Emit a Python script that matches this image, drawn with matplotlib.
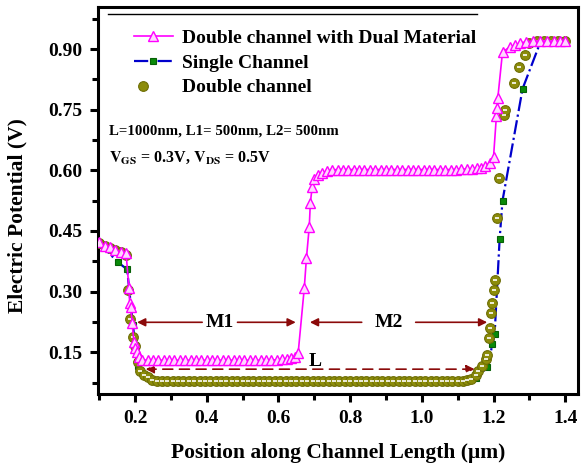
import matplotlib
matplotlib.use("Agg")
import matplotlib.pyplot as plt
from matplotlib.legend_handler import HandlerTuple
from matplotlib.ticker import MultipleLocator, FormatStrFormatter


plt.rcParams["font.family"] = "Liberation Serif"
plt.rcParams["font.weight"] = "bold"
plt.rcParams["mathtext.fontset"] = "stix"

# Double channel with dual material (magenta triangles)
dual_x = [0.100, 0.115, 0.130, 0.145, 0.160, 0.175, 0.183, 0.185, 0.188, 0.192,
          0.197, 0.200, 0.205, 0.211, 0.220, 0.235,
          0.250, 0.265, 0.280, 0.295, 0.310, 0.325, 0.340, 0.355, 0.370, 0.385,
          0.400, 0.415, 0.430, 0.445, 0.460, 0.475, 0.490, 0.505, 0.520, 0.535,
          0.550, 0.565, 0.580, 0.595, 0.610, 0.625, 0.635, 0.645, 0.655,
          0.672, 0.678, 0.686, 0.689, 0.694, 0.700, 0.710, 0.722, 0.735,
          0.750, 0.765, 0.780, 0.795, 0.810, 0.825, 0.840, 0.855, 0.870, 0.885,
          0.900, 0.915, 0.930, 0.945, 0.960, 0.975, 0.990, 1.005, 1.020, 1.035,
          1.050, 1.065, 1.080, 1.095, 1.110, 1.125, 1.140, 1.155, 1.165, 1.175,
          1.190, 1.200, 1.208, 1.211, 1.212, 1.225, 1.247, 1.261, 1.275, 1.290,
          1.309, 1.330, 1.350, 1.370, 1.385, 1.400]
dual_y = [0.422, 0.414, 0.410, 0.403, 0.398, 0.395, 0.308, 0.272, 0.262, 0.222,
          0.175, 0.160, 0.150, 0.138, 0.131, 0.130,
          0.130, 0.130, 0.130, 0.130, 0.130, 0.130, 0.130, 0.130, 0.130, 0.130,
          0.130, 0.130, 0.130, 0.130, 0.130, 0.130, 0.130, 0.130, 0.130, 0.130,
          0.130, 0.130, 0.131, 0.131, 0.132, 0.133, 0.135, 0.139, 0.148,
          0.308, 0.382, 0.461, 0.520, 0.558, 0.578, 0.588, 0.594, 0.598,
          0.601, 0.602, 0.602, 0.602, 0.602, 0.602, 0.602, 0.602, 0.602, 0.602,
          0.602, 0.602, 0.602, 0.602, 0.602, 0.602, 0.602, 0.602, 0.602, 0.602,
          0.602, 0.602, 0.602, 0.602, 0.603, 0.603, 0.604, 0.605, 0.607, 0.610,
          0.618, 0.634, 0.735, 0.755, 0.780, 0.893, 0.906, 0.910, 0.915, 0.918,
          0.920, 0.920, 0.920, 0.920, 0.920, 0.920]

# Single channel (green squares, blue dash-dot)
single_x = [0.100, 0.153, 0.178, 0.194, 0.208, 0.250, 0.350, 0.450, 0.550,
            0.650, 0.750, 0.850, 0.950, 1.050, 1.150, 1.183, 1.197, 1.203,
            1.217, 1.225, 1.281, 1.331, 1.400]
single_y = [0.420, 0.372, 0.355, 0.217, 0.115, 0.082, 0.080, 0.080, 0.080,
            0.080, 0.080, 0.080, 0.080, 0.080, 0.085, 0.113, 0.170, 0.194,
            0.431, 0.525, 0.802, 0.918, 0.920]

# Double channel (olive circles)
double_x = [0.100, 0.115, 0.130, 0.145, 0.160, 0.175, 0.180, 0.186, 0.194,
            0.200, 0.207, 0.214, 0.225, 0.236, 0.248, 0.261,
            0.275, 0.290, 0.305, 0.320, 0.335, 0.350, 0.365, 0.380, 0.395,
            0.410, 0.425, 0.440, 0.455, 0.470, 0.485, 0.500, 0.515, 0.530,
            0.545, 0.560, 0.575, 0.590, 0.605, 0.620, 0.635, 0.650, 0.665,
            0.680, 0.695, 0.710, 0.725, 0.740, 0.755, 0.770, 0.785, 0.800,
            0.815, 0.830, 0.845, 0.860, 0.875, 0.890, 0.905, 0.920, 0.935,
            0.950, 0.965, 0.980, 0.995, 1.010, 1.025, 1.040, 1.055, 1.070,
            1.085, 1.100, 1.115, 1.125, 1.136, 1.150, 1.158, 1.169, 1.180,
            1.183, 1.186, 1.189, 1.194, 1.197, 1.200, 1.203, 1.211, 1.214,
            1.228, 1.231, 1.256, 1.270, 1.287, 1.298, 1.320, 1.340, 1.360,
            1.380, 1.400]
double_y = [0.420, 0.413, 0.408, 0.402, 0.397, 0.390, 0.305, 0.231, 0.187,
            0.165, 0.125, 0.103, 0.093, 0.088, 0.082, 0.079,
            0.078, 0.078, 0.078, 0.078, 0.078, 0.078, 0.078, 0.078, 0.078,
            0.078, 0.078, 0.078, 0.078, 0.078, 0.078, 0.078, 0.078, 0.078,
            0.078, 0.078, 0.078, 0.078, 0.078, 0.078, 0.078, 0.078, 0.078,
            0.078, 0.078, 0.078, 0.078, 0.078, 0.078, 0.078, 0.078, 0.078,
            0.078, 0.078, 0.078, 0.078, 0.078, 0.078, 0.078, 0.078, 0.078,
            0.078, 0.078, 0.078, 0.078, 0.078, 0.078, 0.078, 0.078, 0.078,
            0.078, 0.078, 0.078, 0.080, 0.083, 0.093, 0.103, 0.115, 0.133,
            0.143, 0.185, 0.209, 0.246, 0.271, 0.303, 0.328, 0.483, 0.580,
            0.738, 0.750, 0.817, 0.856, 0.886, 0.915, 0.920, 0.920, 0.920,
            0.920, 0.920]

MAGENTA = "#ff00ff"
OLIVE = "#8c8c0a"
DARKRED = "#8b0a0a"

fig = plt.figure(figsize=(5.84, 4.71), dpi=100)
ax = fig.add_axes([0.168, 0.163, 0.822, 0.822])

single_line, = ax.plot(single_x, single_y, linestyle="-.", color="#0000cc", lw=1.6,
                       marker="s", ms=5, mfc="#0a8a0a", mec="#066006", mew=0.8, zorder=2)
double_pts, = ax.plot(double_x, double_y, linestyle="none", marker="o", ms=7,
                      mfc=OLIVE, mec="#6e6e05", mew=0.8, zorder=3)
double_bar, = ax.plot(double_x, double_y, linestyle="none", marker="_", ms=3.5,
                      mec="white", mew=1.2, zorder=3)
dual_line, = ax.plot(dual_x, dual_y, linestyle="-", color=MAGENTA, lw=1.2,
                     marker="^", ms=6.5, mfc="#ffd6ff", mec=MAGENTA, mew=1.0, zorder=4)

ax.set_xlim(0.097, 1.436)
ax.set_ylim(0.046, 1.004)
ax.xaxis.set_major_locator(MultipleLocator(0.2))
ax.xaxis.set_minor_locator(MultipleLocator(0.1))
ax.yaxis.set_major_locator(MultipleLocator(0.15))
ax.yaxis.set_minor_locator(MultipleLocator(0.075))
ax.xaxis.set_major_formatter(FormatStrFormatter("%.1f"))
ax.yaxis.set_major_formatter(FormatStrFormatter("%.2f"))
ax.tick_params(which="major", direction="out", length=6, width=2.2, labelsize=14, pad=5)
ax.tick_params(which="minor", direction="out", length=4, width=2.2)
for lbl in ax.get_xticklabels() + ax.get_yticklabels():
    lbl.set_fontweight("bold")
for sp in ax.spines.values():
    sp.set_linewidth(2.2)

ax.set_xlabel("Position along Channel Length (\u03bcm)", fontsize=15.5, fontweight="bold", labelpad=12)
ax.set_ylabel("Electric Potential (V)", fontsize=15.5, fontweight="bold")
ax.yaxis.set_label_coords(-0.148, 0.4625)

# legend
leg = ax.legend([dual_line, single_line, (double_pts, double_bar)],
                ["Double channel with Dual Material", "Single Channel", "Double channel"],
                handler_map={tuple: HandlerTuple(ndivide=None, pad=0)},
                loc="upper left", bbox_to_anchor=(0.058, 0.962), frameon=False,
                prop={"family": "Liberation Serif", "weight": "bold", "size": 14},
                handlelength=2.0, handletextpad=0.5, labelspacing=0.36, borderaxespad=0)
ax.plot([0.02, 0.79], [0.983, 0.983], transform=ax.transAxes, color="black", lw=1.0)

ax.text(0.023, 0.670, "L=1000nm, L1= 500nm, L2= 500nm", transform=ax.transAxes,
        fontsize=10.7, fontweight="bold")
ax.text(0.023, 0.600, r"$\mathbf{V_{GS}}$ = 0.3V, $\mathbf{V_{DS}}$ = 0.5V", transform=ax.transAxes,
        fontsize=11.5, fontweight="bold")

# M1 / M2 / L annotations
arrow_kw = dict(arrowstyle="-|>", color=DARKRED, lw=1.2, mutation_scale=12)
ax.annotate("", xy=(0.198, 0.224), xytext=(0.395, 0.224), arrowprops=arrow_kw)
ax.annotate("", xy=(0.656, 0.224), xytext=(0.478, 0.224), arrowprops=arrow_kw)
ax.text(0.437, 0.224, "M1", fontsize=14, fontweight="bold", ha="center", va="center")
ax.annotate("", xy=(0.680, 0.224), xytext=(0.840, 0.224), arrowprops=arrow_kw)
ax.annotate("", xy=(1.190, 0.224), xytext=(0.975, 0.224), arrowprops=arrow_kw)
ax.text(0.907, 0.224, "M2", fontsize=14, fontweight="bold", ha="center", va="center")
ax.annotate("", xy=(0.222, 0.108), xytext=(1.155, 0.108),
            arrowprops=dict(arrowstyle="<|-|>", color=DARKRED, lw=1.2, ls=(0, (6, 4)),
                            mutation_scale=12))
ax.text(0.703, 0.106, "L", fontsize=14, fontweight="bold", ha="center", va="bottom")

fig.savefig("out.png", dpi=100)
